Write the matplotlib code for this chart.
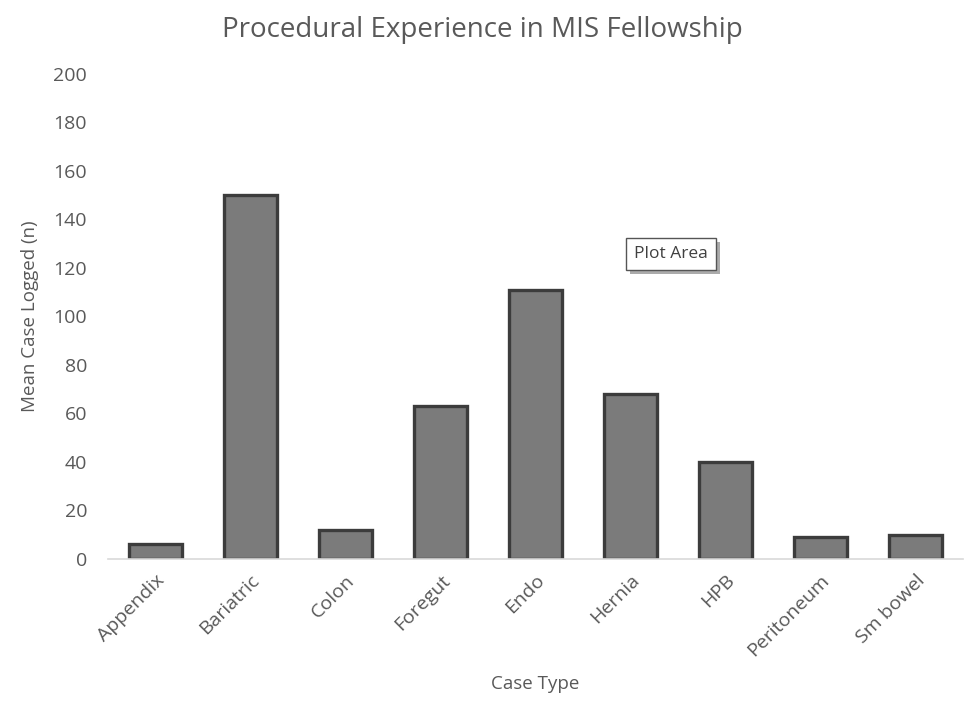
import matplotlib
matplotlib.use("Agg")
import matplotlib.pyplot as plt
import matplotlib.patheffects as pe

# data
categories = ["Appendix", "Bariatric", "Colon", "Foregut", "Endo",
              "Hernia", "HPB", "Peritoneum", "Sm bowel"]
values = [6, 150, 12, 63, 111, 68, 40, 9, 10]
yticks = [0, 20, 40, 60, 80, 100, 120, 140, 160, 180, 200]

plt.rcParams["font.family"] = ["Open Sans", "DejaVu Sans"]
text_col = "#595959"

fig = plt.figure(figsize=(9.64, 7.24), dpi=100)
ax = fig.add_axes([0.112, 0.228, 0.887, 0.67])

x = range(len(categories))
ax.bar(x, values, width=0.55, color="#7b7b7b", edgecolor="#3c3c3c", linewidth=2.4)

ax.set_xlim(-0.5, len(categories) - 0.5)
ax.set_ylim(0, 200)
ax.set_yticks(yticks)
ax.set_xticks(list(x))
ax.set_xticklabels(categories, rotation=45, ha="right", rotation_mode="anchor")

for s in ["top", "right", "left"]:
    ax.spines[s].set_visible(False)
ax.spines["bottom"].set_color("#d9d9d9")
ax.spines["bottom"].set_linewidth(1.2)
ax.tick_params(axis="both", length=0, labelsize=14, colors=text_col)
ax.tick_params(axis="y", pad=15)
ax.tick_params(axis="x", pad=9)

ax.set_xlabel("Case Type", fontsize=13.5, color=text_col, labelpad=11)
ax.set_ylabel("Mean Case Logged (n)", fontsize=13.5, color=text_col, labelpad=10)
fig.text(0.5, 0.958, "Procedural Experience in MIS Fellowship",
         ha="center", va="center", fontsize=20, color=text_col)

# "Plot Area" tooltip
t = fig.text(0.696, 0.649, "Plot Area", ha="center", va="center",
             fontsize=12.5, color="#404040",
             bbox=dict(boxstyle="square,pad=0.45", fc="white", ec="#555555", lw=1))
t.get_bbox_patch().set_path_effects(
    [pe.SimplePatchShadow(offset=(3, -3), shadow_rgbFace="#888888", alpha=0.7), pe.Normal()])

fig.savefig("out.png", dpi=100)
